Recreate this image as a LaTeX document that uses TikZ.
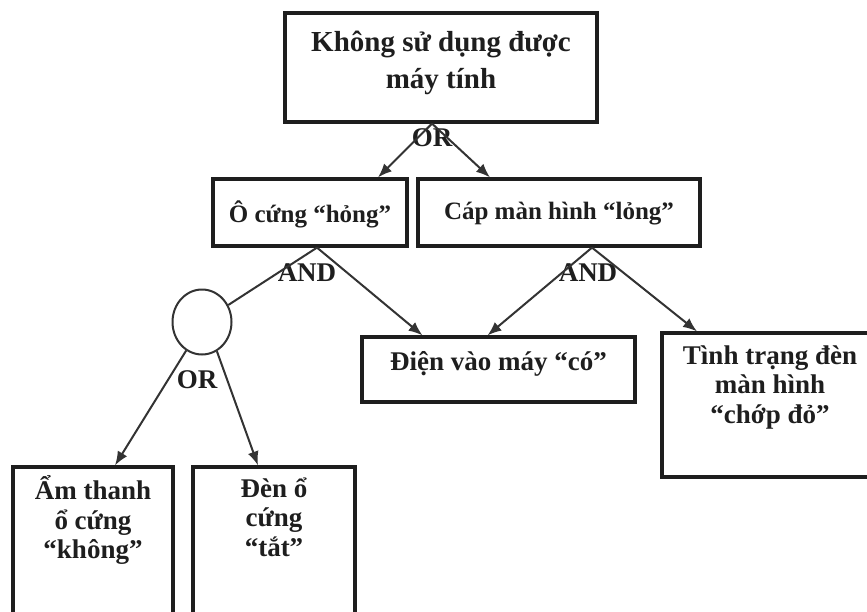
\documentclass[tikz,border=0pt]{standalone}
\usepackage{fontspec}
\setmainfont{Liberation Serif}
\usetikzlibrary{arrows.meta,shapes.geometric}
\definecolor{TreeInk}{HTML}{1E1E1E}
\definecolor{TreeLine}{HTML}{333333}

\begin{document}
\begin{tikzpicture}[x=1pt,y=-1pt,
    faultbox/.style={draw=TreeInk, line width=3.2pt, inner sep=0pt},
    boxtext/.style={anchor=north, inner sep=0pt, align=center, text=TreeInk, font=\bfseries\fontsize{27}{29.5}\selectfont},
    gate/.style={inner sep=0pt, text=TreeInk, font=\bfseries\fontsize{27}{28}\selectfont},
    link/.style={draw=TreeLine, line width=2pt},
    arrowlink/.style={link, -{Latex[length=14pt,width=11pt]}}]
    \useasboundingbox (0,0) rectangle (867,611);
    \clip (0,0) rectangle (867,611);

    % boxes
    \node[faultbox, minimum width=312, minimum height=109] (top) at (441,67.5) {};
    \node[boxtext, font=\bfseries\fontsize{29}{37}\selectfont] (topText) at ([yshift=-19]top.north) {Không sử dụng được\\máy tính};

    \node[faultbox, minimum width=194, minimum height=67] (hdd) at (310,212.5) {};
    \node[boxtext, font=\bfseries\fontsize{25}{28}\selectfont] (hddText) at ([yshift=-23]hdd.north) {Ô cứng “hỏng”};
    \node[faultbox, minimum width=282, minimum height=67] (cable) at (559,212.5) {};
    \node[boxtext, font=\bfseries\fontsize{25}{28}\selectfont] (cableText) at ([yshift=-25]cable.north) {Cáp màn hình “lỏng”};

    \node[faultbox, minimum width=273, minimum height=65] (power) at (498.5,369.5) {};
    \node[boxtext] (powerText) at ([yshift=-15.5]power.north) {Điện vào máy “có”};
    \node[faultbox, minimum width=216, minimum height=144] (led) at (770,405) {};
    \node[boxtext] (ledText) at ([yshift=-14]led.north) {Tình trạng đèn\\màn hình\\“chớp đỏ”};

    \node[draw=TreeLine, line width=2pt, ellipse, minimum width=59, minimum height=65, inner sep=0pt] (disk) at (202,322) {};

    \node[faultbox, minimum width=160, minimum height=183] (sound) at (93,558.5) {};
    \node[boxtext] (soundText) at ([yshift=-10]sound.north) {Ẩm thanh\\ổ cứng\\“không”};
    \node[faultbox, minimum width=162, minimum height=183] (light) at (274,558.5) {};
    \node[boxtext] (lightText) at ([yshift=-12]light.north) {Đèn ổ\\cứng\\“tắt”};

    % gates
    \coordinate (orTop) at ([xshift=-9]top.south);
    \coordinate (andLeft) at ([xshift=7]hdd.south);
    \coordinate (andRight) at ([xshift=33]cable.south);
    \node[gate] (orTopLabel) at (432,138) {OR};
    \node[gate] (andLeftLabel) at (307,273) {AND};
    \node[gate] (andRightLabel) at (588,273) {AND};
    \node[gate] (orDiskLabel) at (197,380) {OR};

    \draw[arrowlink] (orTop) -- ([xshift=68]hdd.north);
    \draw[arrowlink] (orTop) -- ([xshift=-69]cable.north);
    \draw[link] (andLeft) -- (disk);
    \draw[arrowlink] (andLeft) -- ([xshift=-76]power.north);
    \draw[arrowlink] (andRight) -- ([xshift=-11]power.north);
    \draw[arrowlink] (andRight) -- ([xshift=-73]led.north);
    \draw[arrowlink] (disk.-119) -- ([xshift=22]sound.north);
    \draw[arrowlink] (disk.-63) -- ([xshift=-16]light.north);
  \end{tikzpicture}
\end{document}
